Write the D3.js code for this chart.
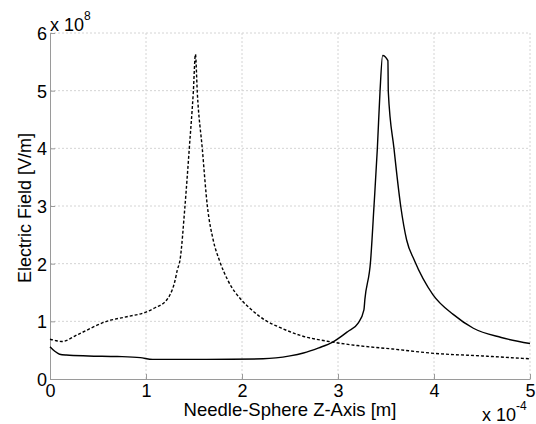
<!DOCTYPE html>
<html>
<head>
<meta charset="utf-8">
<script src="https://cdn.jsdelivr.net/npm/d3@7"></script>
<style>
  body { margin: 0; background: #fff; }
  text { font-family: "Liberation Sans", Arial, sans-serif; fill: #000; }
</style>
</head>
<body>
<script>
// z position in units of 1e-4 m, field in units of 1e8 V/m
const dashedZ = [0, 0.05, 0.12, 0.3, 0.59, 0.8, 1.0, 1.1, 1.215, 1.25, 1.3, 1.326, 1.354, 1.406, 1.451, 1.493, 1.515,
    1.534, 1.586, 1.639, 1.7, 1.764, 1.85, 2.0, 2.1, 2.24, 2.4, 2.6, 2.945, 3.2, 3.57, 4.0, 4.5, 5.0];
const dashedE = [0.69, 0.67, 0.65, 0.78, 1.0, 1.08, 1.16, 1.24, 1.37, 1.46, 1.69, 1.89, 2.06, 3.0, 4.0, 4.98, 5.63,
    4.98, 4.0, 3.0, 2.41, 2.06, 1.72, 1.36, 1.2, 1.02, 0.89, 0.76, 0.64, 0.58, 0.52, 0.445, 0.40, 0.35];

const solidZ = [0, 0.05, 0.1, 0.17, 0.4, 0.7, 0.94, 1.07, 1.63, 2.22, 2.5, 2.64, 2.8, 2.945, 3.1, 3.21, 3.27, 3.28,
    3.34, 3.375, 3.41, 3.4375, 3.465, 3.52, 3.524, 3.583, 3.653, 3.715, 3.795, 3.99, 4.2, 4.41, 4.7, 5.0];
const solidE = [0.56, 0.48, 0.43, 0.415, 0.40, 0.39, 0.37, 0.34, 0.34, 0.35, 0.40, 0.45, 0.54, 0.64, 0.82, 0.97, 1.2, 1.38,
    2.06, 3.0, 4.0, 4.98, 5.61, 5.52, 4.98, 4.0, 3.0, 2.41, 2.06, 1.46, 1.12, 0.88, 0.72, 0.615];

const xTicks = [0, 1, 2, 3, 4, 5];
const yTicks = [0, 1, 2, 3, 4, 5, 6];

const width = 536, height = 424,
    margin = { left: 50, right: 6, top: 33, bottom: 45 };

const x = d3.scaleLinear().domain([0, 5]).range([margin.left, width - margin.right]),
    y = d3.scaleLinear().domain([0, 6]).range([height - margin.bottom, margin.top]);

const svg = d3.select("body").append("svg")
    .attr("width", width)
    .attr("height", height);

// grid
svg.append("g")
    .selectAll("line")
    .data(xTicks.slice(1))
    .join("line")
    .attr("x1", d => x(d)).attr("x2", d => x(d))
    .attr("y1", y(0)).attr("y2", y(6))
    .attr("stroke", "#d4d4d4")
    .attr("stroke-dasharray", "2,2");

svg.append("g")
    .selectAll("line")
    .data(yTicks.slice(1))
    .join("line")
    .attr("x1", x(0)).attr("x2", x(5))
    .attr("y1", d => y(d)).attr("y2", d => y(d))
    .attr("stroke", "#d4d4d4")
    .attr("stroke-dasharray", "2,2");

// axes
const xAxis = svg.append("g")
    .attr("transform", "translate(0," + y(0) + ")")
    .call(d3.axisBottom(x).tickValues(xTicks).tickFormat(d3.format("d")).tickSizeInner(-5).tickSizeOuter(0).tickPadding(5));

const yAxis = svg.append("g")
    .attr("transform", "translate(" + x(0) + ",0)")
    .call(d3.axisLeft(y).tickValues(yTicks).tickFormat(d3.format("d")).tickSizeInner(-5).tickSizeOuter(0).tickPadding(3));

[xAxis, yAxis].forEach(g => {
    g.select(".domain").attr("stroke", "#9a9a9a");
    g.selectAll(".tick line").attr("stroke", "#9a9a9a");
    g.selectAll(".tick text")
        .style("font-family", "'Liberation Sans', Arial, sans-serif")
        .style("font-size", "18px")
        .attr("fill", "#000");
});
yAxis.selectAll(".tick text").attr("dy", "0.36em");

// curves
const line = d3.line()
    .curve(d3.curveMonotoneX)
    .x(d => x(d[0]))
    .y(d => y(d[1]));

svg.append("path")
    .datum(dashedZ.map((z, i) => [z, dashedE[i]]))
    .attr("d", line)
    .attr("fill", "none")
    .attr("stroke", "#000")
    .attr("stroke-width", 1.4)
    .attr("stroke-dasharray", "3,2");

svg.append("path")
    .datum(solidZ.map((z, i) => [z, solidE[i]]))
    .attr("d", line)
    .attr("fill", "none")
    .attr("stroke", "#000")
    .attr("stroke-width", 1.4);

// labels
svg.append("text")
    .attr("x", (x(0) + x(5)) / 2)
    .attr("y", 416)
    .attr("text-anchor", "middle")
    .style("font-size", "18.5px")
    .text("Needle-Sphere Z-Axis [m]");

svg.append("text")
    .attr("transform", "translate(31," + (y(3) + 2) + ") rotate(-90)")
    .attr("text-anchor", "middle")
    .style("font-size", "18px")
    .text("Electric Field [V/m]");

// exponent multipliers
const ey = svg.append("text").attr("x", 50).attr("y", 31).style("font-size", "18px");
ey.append("tspan").text("x 10");
ey.append("tspan").attr("dy", -11).style("font-size", "12px").text("8");

const ex = svg.append("text").attr("x", 482).attr("y", 421).style("font-size", "18px");
ex.append("tspan").text("x 10");
ex.append("tspan").attr("dy", -11).style("font-size", "12px").text("-4");
</script>
</body>
</html>
